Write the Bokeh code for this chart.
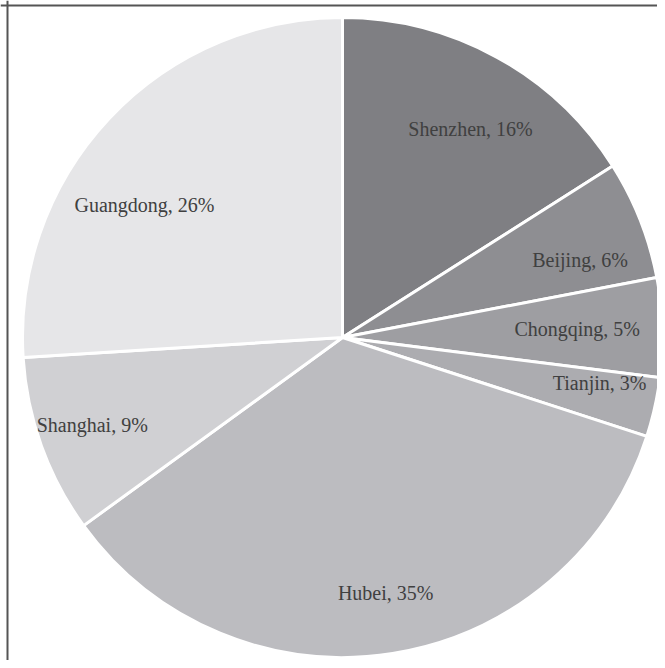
import math
from bokeh.plotting import figure
from bokeh.models import ColumnDataSource, Range1d, Span
from bokeh.core.properties import value
from bokeh.embed import file_html
from bokeh.resources import INLINE

regions = ["Shenzhen", "Beijing", "Chongqing", "Tianjin", "Hubei", "Shanghai", "Guangdong"]
shares = [16, 6, 5, 3, 35, 9, 26]
colors = ["#7f7f83", "#8e8e92", "#9e9ea2", "#acacb0", "#bcbcc0", "#d0d0d3", "#e6e6e8"]

# label placement style: radial fraction of the radius and small angular nudge (degrees, clockwise)
label_rad = [0.766, 0.781, 0.734, 0.816, 0.809, 0.828, 0.744]
label_nudge = [2.7, 3.5, -0.2, -2.5, -0.6, 0.6, -9.5]

W, H = 657, 660
# data coordinates = figure pixels, y measured upward
cx, cy, R = 342, H - 337, 320

total = float(sum(shares))
starts, ends, lx, ly, labels = [], [], [], [], []
cum = 0.0
for name, s, rf, nd in zip(regions, shares, label_rad, label_nudge):
    a0 = math.pi / 2 - 2 * math.pi * cum / total
    cum += s
    a1 = math.pi / 2 - 2 * math.pi * cum / total
    starts.append(a0)
    ends.append(a1)
    mid = (a0 + a1) / 2 - math.radians(nd)
    lx.append(cx + rf * R * math.cos(mid))
    ly.append(cy + rf * R * math.sin(mid))
    labels.append(f"{name}, {s}%")

src = ColumnDataSource(dict(start=starts, end=ends, color=colors))
lsrc = ColumnDataSource(dict(x=lx, y=ly, text=labels))

p = figure(width=W, height=H, output_backend="svg", toolbar_location=None,
           x_range=Range1d(0, W), y_range=Range1d(0, H),
           min_border=0, outline_line_color=None)
p.axis.visible = False
p.grid.visible = False
p.background_fill_color = "white"

p.wedge(x=cx, y=cy, radius=R, start_angle="start", end_angle="end", direction="clock",
        fill_color="color", line_color="white", line_width=3, source=src)

p.text(x="x", y="y", text="text", source=lsrc, text_font=value("Liberation Serif"),
       text_font_size="20px", text_color="#404040", text_align="center",
       text_baseline="middle")

p.add_layout(Span(location=7, dimension="height", line_color="#555555", line_width=2))
p.add_layout(Span(location=H - 5, dimension="width", line_color="#555555", line_width=2))

open("out.html", "w").write(file_html(p, INLINE))
